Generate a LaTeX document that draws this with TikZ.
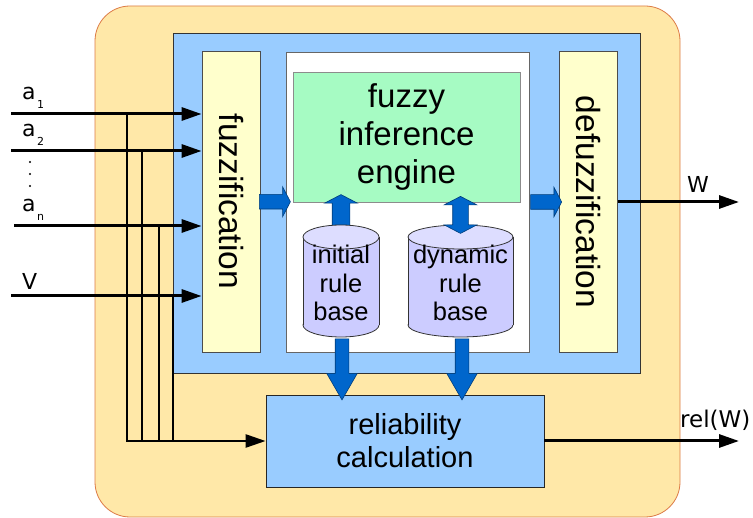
\documentclass[tikz,border=0pt]{standalone}
\usepackage{fontspec}
\setmainfont{Liberation Sans}
\newfontfamily\lblfont{DejaVu Sans}
\usetikzlibrary{calc,arrows.meta,shapes.arrows}

\definecolor{shell}{HTML}{FFE8A8}
\definecolor{shelledge}{HTML}{DC7A45}
\definecolor{panel}{HTML}{99CCFF}
\definecolor{stagefill}{HTML}{FFFFCC}
\definecolor{enginefill}{HTML}{A6FBC3}
\definecolor{drumside}{HTML}{CCCCFF}
\definecolor{drumtop}{HTML}{DDDDFF}
\definecolor{fatblue}{HTML}{0066CC}
\definecolor{fatedge}{HTML}{003D7A}

\tikzset{
  stage/.style={draw=black!70, fill=stagefill, line width=0.8pt, inner sep=0pt,
    minimum width=58pt, minimum height=301pt, font=\fontsize{33.5}{38}\selectfont},
  feed/.style={line width=3pt, -{Triangle[length=20pt,width=13pt]}},
  tap/.style={line width=2.5pt, line cap=rect},
  lbl/.style={font=\lblfont\fontsize{22}{22}\selectfont, inner sep=0pt, anchor=base west},
  fat/.style n args={3}{single arrow, draw=fatedge, fill=fatblue, line width=0.6pt,
    inner xsep=0pt, inner ysep=#2, single arrow head extend=#3,
    single arrow head indent=0pt, minimum height=#1, single arrow tip angle=125}
}

\begin{document}
\begin{tikzpicture}[x=1pt,y=-1pt]
\useasboundingbox (0,0) rectangle (753,518);

\draw[fill=shell, draw=shelledge, line width=0.8pt, rounded corners=35pt] (95,6) rectangle (680,517);
\draw[fill=panel, draw=black!80, line width=0.8pt] (173,33) rectangle (640,373);

\node[stage] (fuzz) at (231,201.5) {\rotatebox{-90}{fuzzification}};
\node[stage] (defuzz) at (588.5,202) {\rotatebox{-90}{defuzzification}};
\node[draw=black!60, fill=white, line width=0.8pt, minimum width=243pt,
  minimum height=300pt] (core) at (407.5,202) {};
\node[draw=black!45, fill=enginefill, line width=0.8pt, minimum width=227pt,
  minimum height=130pt, align=center, font=\fontsize{33}{38}\selectfont]
  (engine) at (406.5,137) {fuzzy\\inference\\engine};

\coordinate (ini) at (341,281);
\coordinate (dyn) at (460.5,281);

% up arrow sits under the drum
\node[fat={31pt}{8.5pt}{7.5pt}, rotate=90] (up) at ($(engine.south -| ini)+(0,10)$) {};

\foreach \c/\rx/\txt in {ini/38/{initial\\rule\\base}, dyn/52.5/{dynamic\\rule\\base}}{
  \filldraw[fill=drumside, draw=black!80, line width=0.8pt] (\c) ++(0,44) ellipse [x radius=\rx pt, y radius=12pt];
  \fill[drumside] (\c) ++(-\rx,-44) rectangle ++(2*\rx,88);
  \draw[black!80, line width=0.8pt] (\c) ++(-\rx,-44) -- ++(0,88) (\c) ++(\rx,-44) -- ++(0,88);
  \filldraw[fill=drumtop, draw=black!80, line width=0.8pt] (\c) ++(0,-44) ellipse [x radius=\rx pt, y radius=12pt];
  \node[align=center, inner sep=0pt, font=\fontsize{25.5}{28.5}\selectfont] (\c text) at ([yshift=-2pt]\c) {\txt};
}

\node[double arrow, draw=fatedge, fill=fatblue, line width=0.6pt, inner xsep=0pt,
  inner ysep=7.5pt, double arrow head extend=8.5pt, double arrow head indent=0pt,
  double arrow tip angle=125, minimum height=37pt, rotate=90]
  (swap) at ($(engine.south -| dyn)+(0,12.5)$) {};

\node[fat={31pt}{7pt}{7.5pt}] (toengine) at ($(fuzz.east)!.5!(core.west)$) {};
\node[fat={31pt}{7pt}{7.5pt}] (todefuzz) at ($(core.east)!.5!(defuzz.west)$) {};

\node[draw=black!85, fill=panel, line width=0.8pt, minimum width=278pt,
  minimum height=92pt, align=center, font=\fontsize{29}{33}\selectfont]
  (rel) at (405,441) {reliability\\calculation};

\foreach \c/\dx in {ini/1, dyn/1.5}
  \node[fat={61pt}{6.5pt}{8.5pt}, single arrow tip angle=60, rotate=-90] at ($(\c)+(\dx,82.5)$) {};

% inputs and their taps down to the reliability block
\foreach \s/\y/\x/\tx [count=\n] in {1/114/11/127, 2/151/11/142, n/226/14/159}{
  \coordinate (src\n) at (\x,\y);
  \node[lbl] (lbl\n) at (22,\y-14) {a\kern1.5pt\raisebox{-9pt}{\fontsize{11}{11}\selectfont\s}};
  \draw[tap] (\tx,\y) -- (\tx,441);
  \draw[feed] (src\n) -- (src\n -| fuzz.west);
}
\foreach \y in {162,174,186} \fill (30,\y) circle (1.2pt);

\coordinate (srcV) at (11,296);
\node[lbl] (lblV) at (22,290) {V};
\draw[tap] (173,296) -- (173,441);
\draw[feed] (srcV) -- (srcV -| fuzz.west);

\coordinate (bus) at (127,441);
\draw[tap, -{Triangle[length=20pt,width=13pt]}] (bus) -- (bus -| rel.west);

\coordinate (Wend) at (739,202);
\draw[feed] (defuzz.east) -- (Wend);
\node[lbl] (lblW) at (687,193) {W};

\coordinate (relend) at (739,441);
\draw[feed] (rel.east) -- (relend);
\node[lbl, font=\lblfont\fontsize{23}{23}\selectfont] (lblrel) at (680,428) {rel(W)};
\end{tikzpicture}
\end{document}
